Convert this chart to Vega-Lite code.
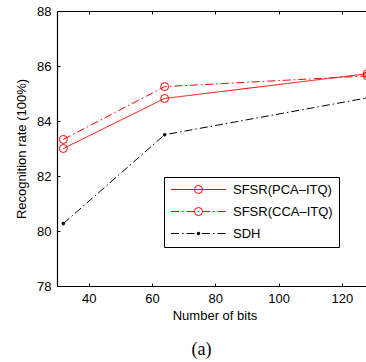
{
  "$schema": "https://vega.github.io/schema/vega-lite/v6.json",
  "autosize": "none",
  "width": 309,
  "height": 275,
  "padding": {"left": 57, "top": 11, "right": 0, "bottom": 76},
  "background": "white",
  "config": {
    "view": {"stroke": null},
    "font": "Liberation Sans",
    "axis": {"labelFont": "Liberation Sans", "titleFont": "Liberation Sans", "labelColor": "black", "titleColor": "black", "domainColor": "black", "tickColor": "black", "grid": false, "labelFontSize": 13, "titleFontSize": 13, "titleFontWeight": "normal", "domainWidth": 1.2, "tickWidth": 1}
  },
  "title": {"text": "(a)", "orient": "bottom", "font": "Liberation Serif", "fontSize": 18, "fontWeight": "normal", "color": "black", "anchor": "middle", "dx": -10, "offset": 19},
  "data": {"values": [
    {"series": "SFSR(PCA–ITQ)", "m": "o PCA", "bits": 32, "rate": 83.0},
    {"series": "SFSR(PCA–ITQ)", "m": "o PCA", "bits": 64, "rate": 84.82},
    {"series": "SFSR(PCA–ITQ)", "m": "o PCA", "bits": 128, "rate": 85.72},
    {"series": "SFSR(CCA–ITQ)", "m": "o CCA", "bits": 32, "rate": 83.33},
    {"series": "SFSR(CCA–ITQ)", "m": "o CCA", "bits": 64, "rate": 85.25},
    {"series": "SFSR(CCA–ITQ)", "m": "o CCA", "bits": 128, "rate": 85.64},
    {"series": "SDH", "m": ". SDH", "bits": 32, "rate": 80.27},
    {"series": "SDH", "m": ". SDH", "bits": 64, "rate": 83.5},
    {"series": "SDH", "m": ". SDH", "bits": 128, "rate": 84.84}
  ]},
  "resolve": {"axis": {"x": "independent", "y": "independent"}},
  "layer": [
    {
      "mark": {"type": "line", "strokeWidth": 1},
      "encoding": {
        "x": {"field": "bits", "type": "quantitative", "scale": {"domain": [30, 127.6], "nice": false, "zero": false},
              "axis": {"orient": "bottom", "values": [40, 60, 80, 100, 120], "tickSize": -3, "labelPadding": 9, "title": "Number of bits", "titlePadding": 4, "titleX": 157.5}},
        "y": {"field": "rate", "type": "quantitative", "scale": {"domain": [78, 88], "nice": false, "zero": false},
              "axis": {"orient": "left", "values": [78, 80, 82, 84, 86, 88], "tickSize": -3, "labelPadding": 9, "title": "Recognition rate (100%)", "titlePadding": 8}},
        "color": {"field": "series", "type": "nominal",
                  "scale": {"domain": ["SFSR(PCA–ITQ)", "SFSR(CCA–ITQ)", "SDH"], "range": ["#ff0000", "#ff0000", "#000000"]},
                  "legend": {"orient": "none", "legendX": 107, "legendY": 166, "title": null, "symbolType": "M-1,0H9", "symbolSize": 121, "symbolStrokeWidth": 1, "labelFont": "Liberation Sans", "labelFontSize": 13, "labelColor": "black", "strokeColor": "black", "fillColor": "white", "padding": 6, "rowPadding": 8, "labelOffset": 50, "labelLimit": 300}},
        "strokeDash": {"field": "series", "type": "nominal",
                  "scale": {"domain": ["SFSR(PCA–ITQ)", "SFSR(CCA–ITQ)", "SDH"], "range": [[1, 0], [8, 3, 1.5, 3], [8, 3, 1.5, 3]]}}
      }
    },
    {
      "mark": {"type": "point", "strokeWidth": 1, "opacity": 1},
      "encoding": {
        "x": {"field": "bits", "type": "quantitative",
              "axis": {"orient": "top", "values": [40, 60, 80, 100, 120], "tickSize": -3, "labels": false, "title": null}},
        "y": {"field": "rate", "type": "quantitative", "axis": null},
        "shape": {"field": "m", "type": "nominal", "scale": {"domain": ["o PCA", "o CCA", ". SDH"], "range": ["circle", "circle", "circle"]},
                  "legend": {"orient": "none", "legendX": 129, "legendY": 166, "title": null, "labelExpr": "' '", "labelFont": "Liberation Sans", "labelFontSize": 13, "labelColor": "transparent", "padding": 6, "rowPadding": 8, "labelOffset": 7, "symbolStrokeWidth": 1}},
        "size": {"field": "m", "type": "nominal", "scale": {"type": "ordinal", "domain": ["o PCA", "o CCA", ". SDH"], "range": [64, 64, 7]}},
        "stroke": {"field": "m", "type": "nominal", "scale": {"domain": ["o PCA", "o CCA", ". SDH"], "range": ["#ff0000", "#ff0000", "#000000"]}},
        "fill": {"field": "m", "type": "nominal", "scale": {"domain": ["o PCA", "o CCA", ". SDH"], "range": ["transparent", "transparent", "#000000"]}}
      }
    }
  ]
}
